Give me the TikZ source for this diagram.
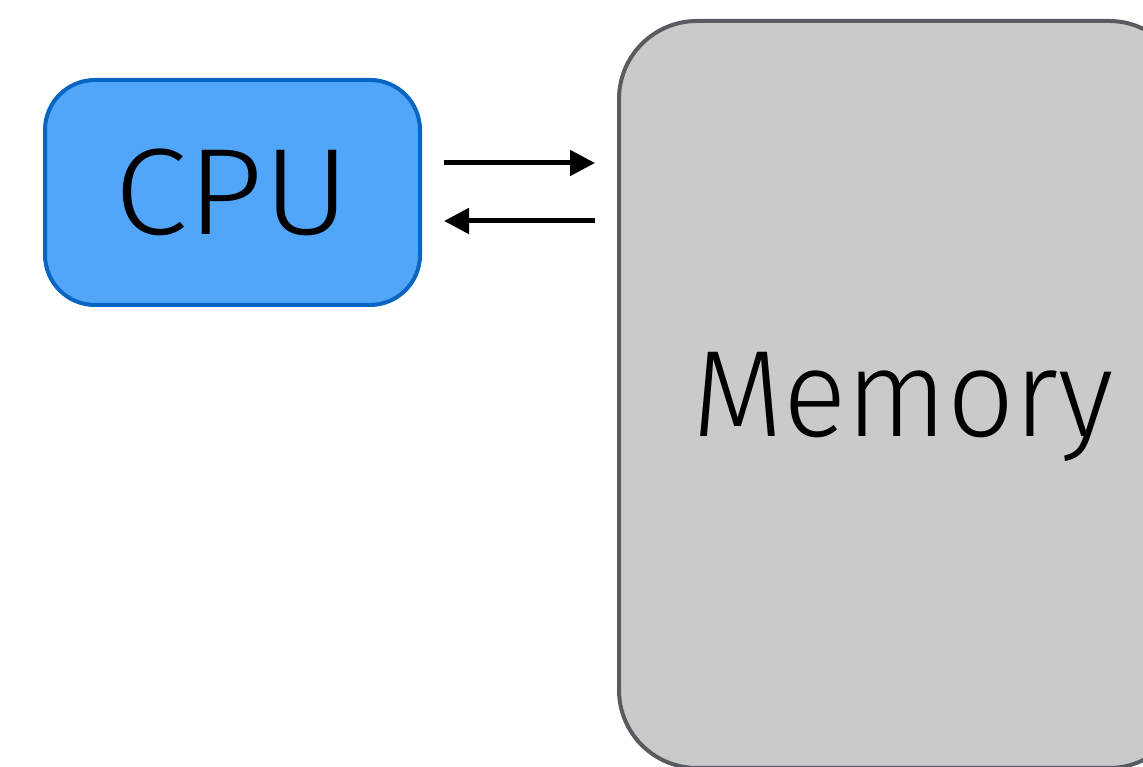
\documentclass[tikz,border=0pt]{standalone}
\usepackage{fontspec}
\setmainfont{Fira Sans}[UprightFont=* Light]
\usetikzlibrary{arrows.meta,calc}
\definecolor{cpufill}{HTML}{51A6F9}
\definecolor{cpuline}{HTML}{0866C2}
\definecolor{memfill}{HTML}{CACACA}
\definecolor{memline}{HTML}{585C61}
\tikzset{
  unitbox/.style={draw, line width=4pt, inner sep=0pt, outer sep=0pt,
    text height=85pt, text depth=0pt,
    font=\fontsize{123}{123}\selectfont},
  cpubox/.style={unitbox, fill=cpufill, draw=cpuline, rounded corners=50pt,
    minimum width=375pt, minimum height=225pt},
  membox/.style={unitbox, fill=memfill, draw=memline, rounded corners=78pt,
    minimum width=568pt, minimum height=747pt},
  busarrow/.style={line width=5pt, -{Triangle[length=25pt,width=25pt]}}
}
\begin{document}
\begin{tikzpicture}[x=1pt,y=1pt]
  \useasboundingbox (0,0) rectangle (1143,767);
  \clip (0,0) rectangle (1143,767);
  \fill[white] (0,0) rectangle (1143,767);
  \node[cpubox] (cpu) at (232.5,574.5) {\scalebox{1.08}[1]{CPU}};
  \node[membox] (memory) at (903,372.5) {\scalebox{0.96}[1]{Memory}};
  % request and response lines between processor and memory
  \draw[busarrow] ($(cpu.east)+(24,29.5)$) -- ($(memory.west |- cpu.east)+(-24,29.5)$);
  \draw[busarrow] ($(memory.west |- cpu.east)+(-24,-28.5)$) -- ($(cpu.east)+(24,-28.5)$);
\end{tikzpicture}
\end{document}
